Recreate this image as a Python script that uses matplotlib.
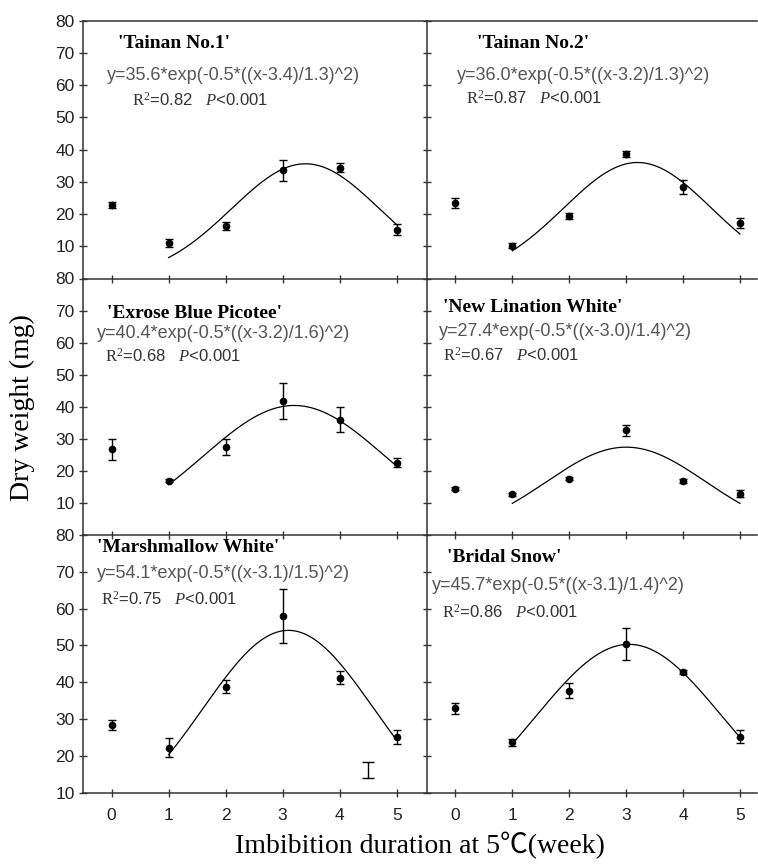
import numpy as np
import matplotlib
matplotlib.use('Agg')
import matplotlib.pyplot as plt

# Data
#==========================================================
weeks = [0, 1, 2, 3, 4, 5]
cultivars = ["'Tainan No.1'", "'Tainan No.2'", "'Exrose Blue Picotee'",
             "'New Lination White'", "'Marshmallow White'", "'Bridal Snow'"]
dry_weight = [
    [22.7, 11.1, 16.4, 33.6, 34.4, 15.1],
    [23.5, 10.2, 19.4, 38.6, 28.4, 17.3],
    [26.7, 16.9, 27.4, 41.7, 35.9, 22.6],
    [14.5, 12.7, 17.5, 32.6, 16.9, 12.9],
    [28.4, 22.2, 38.8, 58.0, 41.2, 25.2],
    [32.9, 23.7, 37.7, 50.4, 42.8, 25.2],
]
dry_err = [
    [0.9, 1.3, 1.2, 3.2, 1.4, 1.7],
    [1.6, 0.7, 1.0, 1.0, 2.2, 1.6],
    [3.2, 0.5, 2.6, 5.6, 3.9, 1.3],
    [0.5, 0.5, 0.5, 1.7, 0.6, 1.2],
    [1.4, 2.6, 1.8, 7.3, 1.8, 1.9],
    [1.4, 0.9, 2.1, 4.3, 0.6, 1.8],
]
# Printed equations (text in each panel)
eq_a   = ['35.6', '36.0', '40.4', '27.4', '54.1', '45.7']
eq_x0  = ['3.4', '3.2', '3.2', '3.0', '3.1', '3.1']
eq_b   = ['1.3', '1.3', '1.6', '1.4', '1.5', '1.4']
r2     = ['0.82', '0.87', '0.68', '0.67', '0.75', '0.86']
# Drawn Gaussian curves (weeks 1-5)
curve_a  = [35.6, 36.0, 40.4, 27.4, 54.1, 50.3]
curve_x0 = [3.4, 3.2, 3.2, 3.0, 3.1, 3.05]
curve_b  = [1.3, 1.3, 1.6, 1.4, 1.5, 1.65]
# LSD bar in the Marshmallow White panel
lsd_x, lsd_lo, lsd_hi = 4.5, 13.9, 18.3

# Style
#==========================================================
plt.rcParams['font.family'] = ['Liberation Sans', 'DejaVu Sans']
plt.rcParams['mathtext.fontset'] = 'custom'
plt.rcParams['mathtext.rm'] = 'Liberation Serif'
plt.rcParams['mathtext.it'] = 'Liberation Serif:italic'
serif = ['Liberation Serif', 'Noto Sans CJK SC', 'DejaVu Sans']
axcol = '#333333'

W, H = 758., 866.
fig = plt.figure(figsize=(W / 100, H / 100), dpi=100)

def px_axes(x0, x1, y0, y1):
    return fig.add_axes([x0 / W, 1 - y1 / H, (x1 - x0) / W, (y1 - y0) / H])

col_px = [(83, 427), (427, 757)]
col_xlim = [(-0.5, 5.53), (-0.5, 5.3)]
row_px = [(20.7, 278.5), (278.5, 535), (535, 792.7)]
row_ylim = [(0, 80), (0, 80), (10, 80)]

# text positions (pixels) for title / equation / R2 line
txt_pos = [
    [(118, 43), (107, 76), (132, 100)],
    [(477, 43), (457, 76), (466, 98)],
    [(107, 313), (97, 333), (105, 356)],
    [(443, 307), (439, 332), (443, 355)],
    [(97, 548), (97, 573), (101, 599)],
    [(447, 558), (432, 586), (442, 612)],
]

for k in range(6):
    r, c = k // 2, k % 2
    ax = px_axes(col_px[c][0], col_px[c][1], row_px[r][0], row_px[r][1])
    ax.set_xlim(*col_xlim[c])
    ax.set_ylim(*row_ylim[r])
    ax.patch.set_alpha(0)

    ax.errorbar(weeks, dry_weight[k], yerr=dry_err[k], fmt='o', color='k',
                ms=4.5, elinewidth=1, capsize=2.8, capthick=1)
    xf = np.linspace(1, 5, 200)
    ax.plot(xf, curve_a[k] * np.exp(-0.5 * ((xf - curve_x0[k]) / curve_b[k]) ** 2),
            color='k', lw=0.9)
    if k == 4:
        ax.errorbar([lsd_x], [(lsd_lo + lsd_hi) / 2], yerr=[(lsd_hi - lsd_lo) / 2],
                    fmt='none', ecolor='k', elinewidth=1, capsize=4, capthick=1)

    for side in ['left', 'right', 'top', 'bottom']:
        ax.spines[side].set_color(axcol)
        ax.spines[side].set_linewidth(1.1)
    ax.spines['right'].set_visible(False)
    ax.spines['top'].set_visible(r == 0)

    ax.set_xticks(weeks)
    ax.set_yticks(range(10, 81, 10))
    ax.tick_params(direction='inout', length=6, width=1, color=axcol,
                   labelsize=12.5, labelcolor='#222222')
    ax.tick_params(axis='x', pad=8)
    ax.tick_params(axis='y', pad=3)
    if r != 2:
        ax.set_xticklabels([])
    if c != 0:
        ax.set_yticklabels([])

    (tx, ty), (ex, ey), (rx, ry) = txt_pos[k]
    fig.text(tx / W, 1 - ty / H, cultivars[k], family=serif, fontweight='bold',
             fontsize=14, va='center', ha='left', color='k')
    eq = 'y={}*exp(-0.5*((x-{})/{})^2)'.format(eq_a[k], eq_x0[k], eq_b[k])
    fig.text(ex / W, 1 - ey / H, eq, fontsize=13, va='center', ha='left',
             color='#555555')
    fig.text(rx / W, 1 - ry / H, r'$\mathrm{R}^2$=' + r2[k] + r'   $P$<0.001',
             fontsize=12, va='center', ha='left', color='#333333')

fig.text(22 / W, 1 - 408 / H, 'Dry weight (mg)', family=serif, fontsize=20,
         rotation=90, va='center', ha='center', color='k')
fig.text(420 / W, 1 - 845 / H, 'Imbibition duration at 5\u2103(week)',
         family=serif, fontsize=20, va='center', ha='center', color='k')

fig.savefig('out.png', dpi=100)
